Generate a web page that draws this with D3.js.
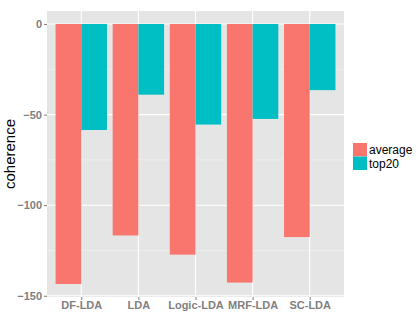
<!DOCTYPE html>
<html>
<head>
<meta charset="utf-8">
<script src="https://cdn.jsdelivr.net/npm/d3@7"></script>
<style>
  body { margin: 0; background: #fff; }
  svg { display: block; font-family: "Liberation Sans", Arial, sans-serif; }
</style>
</head>
<body>
<svg width="419" height="318"></svg>
<script>
var methods = ["DF-LDA", "LDA", "Logic-LDA", "MRF-LDA", "SC-LDA"];
var series = ["average", "top20"];
var average = [-143.5, -116.7, -127.3, -142.7, -117.6];
var top20 = [-58.5, -39, -55.5, -52.4, -36.5];
var yTicks = [0, -50, -100, -150];
var yMinor = [-25, -75, -125];

var colors = {average: "#f8766d", top20: "#00bfc4"};

var svg = d3.select("svg"),
  margin = {top: 11, right: 75, bottom: 21, left: 47},
  width = +svg.attr("width") - margin.left - margin.right,
  height = +svg.attr("height") - margin.top - margin.bottom,
  g = svg.append("g").attr("transform", "translate(" + margin.left + "," + margin.top + ")");

var data = methods.map(function(m, i) {
  return {method: m, average: average[i], top20: top20[i]};
});

var x = d3.scalePoint()
  .domain(methods)
  .range([0, width])
  .padding(0.6);

var barW = x.step() * 0.45;

var x1 = d3.scaleBand()
  .domain(series)
  .range([-barW, barW]);

var lo = d3.min(average.concat(top20)), span = 0 - lo;
var y = d3.scaleLinear()
  .domain([lo - span * 0.05, span * 0.05])
  .range([height, 0]);

// panel
g.append("rect")
  .attr("width", width)
  .attr("height", height)
  .attr("fill", "#e5e5e5");

g.selectAll(".minor")
  .data(yMinor)
  .enter().append("line")
    .attr("x1", 0).attr("x2", width)
    .attr("y1", y).attr("y2", y)
    .attr("stroke", "#f2f2f2")
    .attr("stroke-width", 0.6);

g.selectAll(".hgrid")
  .data(yTicks)
  .enter().append("line")
    .attr("x1", 0).attr("x2", width)
    .attr("y1", y).attr("y2", y)
    .attr("stroke", "#ffffff")
    .attr("stroke-width", 1.1);

g.selectAll(".vgrid")
  .data(methods)
  .enter().append("line")
    .attr("x1", x).attr("x2", x)
    .attr("y1", 0).attr("y2", height)
    .attr("stroke", "#ffffff")
    .attr("stroke-width", 1.1);

// bars
g.append("g")
  .selectAll("g")
  .data(data)
  .enter().append("g")
    .attr("transform", function(d) { return "translate(" + x(d.method) + ",0)"; })
  .selectAll("rect")
  .data(function(d) { return series.map(function(k) { return {key: k, value: d[k]}; }); })
  .enter().append("rect")
    .attr("x", function(d) { return x1(d.key); })
    .attr("y", y(0))
    .attr("width", x1.bandwidth())
    .attr("height", function(d) { return y(d.value) - y(0); })
    .attr("fill", function(d) { return colors[d.key]; });

// axes
var yAxis = g.append("g")
  .call(d3.axisLeft(y).tickValues(yTicks).tickSize(3).tickPadding(2).tickFormat(d3.format("d")));
var xAxis = g.append("g")
  .attr("transform", "translate(0," + height + ")")
  .call(d3.axisBottom(x).tickSize(3).tickPadding(1));

[yAxis, xAxis].forEach(function(a) {
  a.select(".domain").remove();
  a.selectAll(".tick line").attr("stroke", "#7f7f7f");
  a.selectAll(".tick text")
    .attr("fill", "#7f7f7f")
    .attr("font-size", 11)
    .attr("font-weight", "bold")
    .attr("font-family", "Liberation Sans, Arial, sans-serif");
});

svg.append("text")
  .attr("transform", "translate(15," + (margin.top + height / 2) + ") rotate(-90)")
  .attr("text-anchor", "middle")
  .attr("font-size", 15)
  .attr("fill", "#000")
  .text("coherence");

// legend
var legend = svg.append("g")
  .attr("transform", "translate(353,143)")
  .selectAll("g")
  .data(series)
  .enter().append("g")
    .attr("transform", function(d, i) { return "translate(0," + i * 13.5 + ")"; });

legend.append("rect")
  .attr("width", 14)
  .attr("height", 13.5)
  .attr("fill", function(d) { return colors[d]; });

legend.append("text")
  .attr("x", 16)
  .attr("y", 7)
  .attr("dy", "0.35em")
  .attr("font-size", 12)
  .attr("fill", "#000")
  .text(function(d) { return d; });
</script>
</body>
</html>
